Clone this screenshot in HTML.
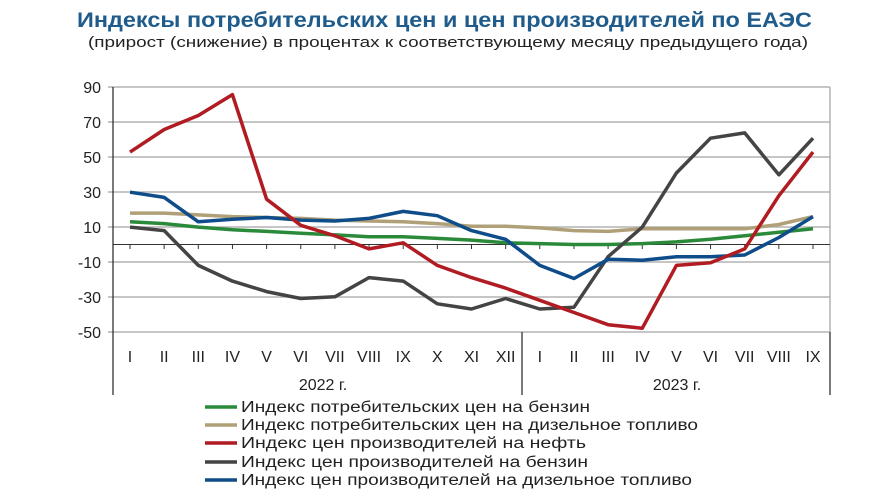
<!DOCTYPE html>
<html><head><meta charset="utf-8"><style>
body{margin:0;background:#fff;width:891px;height:495px;overflow:hidden;font-family:"Liberation Sans",sans-serif}
</style></head><body>
<svg width="891" height="495" xmlns="http://www.w3.org/2000/svg" font-family="Liberation Sans, sans-serif">
<text x="77" y="27" font-size="21" font-weight="bold" fill="#1f5c8c" textLength="735" lengthAdjust="spacingAndGlyphs">Индексы потребительских цен и цен производителей по ЕАЭС</text>
<text x="88" y="47" font-size="15" fill="#222" textLength="720" lengthAdjust="spacingAndGlyphs">(прирост (снижение) в процентах к соответствующему месяцу предыдущего года)</text>
<g stroke="#b4b4b4" stroke-width="1.5">
<line x1="113" y1="87" x2="830" y2="87"/><line x1="113" y1="122" x2="830" y2="122"/><line x1="113" y1="157" x2="830" y2="157"/><line x1="113" y1="192" x2="830" y2="192"/><line x1="113" y1="227" x2="830" y2="227"/><line x1="113" y1="262" x2="830" y2="262"/><line x1="113" y1="297" x2="830" y2="297"/><line x1="113" y1="332" x2="830" y2="332"/>
<line x1="830" y1="87" x2="830" y2="332"/>
</g>
<line x1="108" y1="87" x2="113" y2="87" stroke="#888"/><line x1="108" y1="122" x2="113" y2="122" stroke="#888"/><line x1="108" y1="157" x2="113" y2="157" stroke="#888"/><line x1="108" y1="192" x2="113" y2="192" stroke="#888"/><line x1="108" y1="227" x2="113" y2="227" stroke="#888"/><line x1="108" y1="262" x2="113" y2="262" stroke="#888"/><line x1="108" y1="297" x2="113" y2="297" stroke="#888"/><line x1="108" y1="332" x2="113" y2="332" stroke="#888"/>
<line x1="113" y1="244.5" x2="830" y2="244.5" stroke="#333" stroke-width="1"/>
<line x1="113" y1="87" x2="113" y2="395" stroke="#222" stroke-width="1.2"/>
<line x1="522" y1="332" x2="522" y2="395" stroke="#222" stroke-width="1.2"/>
<line x1="830" y1="332" x2="830" y2="395" stroke="#222" stroke-width="1.2"/>
<g font-size="16" fill="#222" text-anchor="end">
<text x="101" y="93">90</text><text x="101" y="128">70</text><text x="101" y="163">50</text><text x="101" y="198">30</text><text x="101" y="233">10</text><text x="101" y="268">-10</text><text x="101" y="303">-30</text><text x="101" y="338">-50</text>
</g>
<g font-size="16" fill="#222" text-anchor="middle" id="xl"></g>
<g font-size="16" fill="#222" text-anchor="middle"><text x="323" y="390">2022 г.</text><text x="677" y="390">2023 г.</text></g>
<g id="series" fill="none" stroke-width="3.5" stroke-linejoin="round"></g>
<g font-size="15.5" fill="#222">
<line x1="205" y1="407" x2="237" y2="407" stroke="#2a8a3a" stroke-width="3.5"/><text x="241" y="412" textLength="349" lengthAdjust="spacingAndGlyphs">Индекс потребительских цен на бензин</text>
<line x1="205" y1="425" x2="237" y2="425" stroke="#b0a078" stroke-width="3.5"/><text x="241" y="430" textLength="457" lengthAdjust="spacingAndGlyphs">Индекс потребительских цен на дизельное топливо</text>
<line x1="205" y1="443" x2="237" y2="443" stroke="#b01c22" stroke-width="3.5"/><text x="241" y="448" textLength="345" lengthAdjust="spacingAndGlyphs">Индекс цен производителей на нефть</text>
<line x1="205" y1="462" x2="237" y2="462" stroke="#444" stroke-width="3.5"/><text x="241" y="467" textLength="347" lengthAdjust="spacingAndGlyphs">Индекс цен производителей на бензин</text>
<line x1="205" y1="480" x2="237" y2="480" stroke="#0f4c8a" stroke-width="3.5"/><text x="241" y="485" textLength="451" lengthAdjust="spacingAndGlyphs">Индекс цен производителей на дизельное топливо</text>
</g>
</svg>
<script>
const ns="http://www.w3.org/2000/svg";
const X=i=>130+34.15*i, Y=v=>244.5-1.743*v;
const labs=["I","II","III","IV","V","VI","VII","VIII","IX","X","XI","XII","I","II","III","IV","V","VI","VII","VIII","IX"];
const xl=document.getElementById("xl"),svg=document.querySelector("svg");
labs.forEach((l,i)=>{const t=document.createElementNS(ns,"text");t.setAttribute("x",X(i));t.setAttribute("y",362);t.textContent=l;xl.appendChild(t);
const k=document.createElementNS(ns,"line");k.setAttribute("x1",X(i));k.setAttribute("x2",X(i));k.setAttribute("y1",244.5);k.setAttribute("y2",249);k.setAttribute("stroke","#333");svg.insertBefore(k,xl);});
const S=[
["#b0a078",[18,18,17,16,15.5,15,14,13.5,13,12,10.5,10.5,9.5,8,7.5,9,9,9,9,11.5,16]],
["#2a8a3a",[13,12,10,8.5,7.5,6.5,5.5,4.5,4.5,3.5,2.5,1,0.5,0,0,0.5,1.5,3,5,7,9]],
["#444",[10,8,-12,-21,-27,-31,-30,-19,-21,-34,-37,-31,-37,-36,-7,10,41,61,64,40,61]],
["#0f4c8a",[30,27,13,14.5,15.5,14,13.5,15,19,16.5,8,3,-12,-19.5,-8.5,-9,-7,-7,-6,4,16]],
["#b01c22",[53,66,74,86,26,11,5,-2.5,1,-12,-19,-25,-32,-39,-46,-48,-12,-10.5,-2.5,28,53]]];
const g=document.getElementById("series");
S.forEach(([c,d])=>{const p=document.createElementNS(ns,"polyline");p.setAttribute("points",d.map((v,i)=>X(i).toFixed(1)+","+Y(v).toFixed(1)).join(" "));p.setAttribute("stroke",c);g.appendChild(p);});
</script>
</body></html>
